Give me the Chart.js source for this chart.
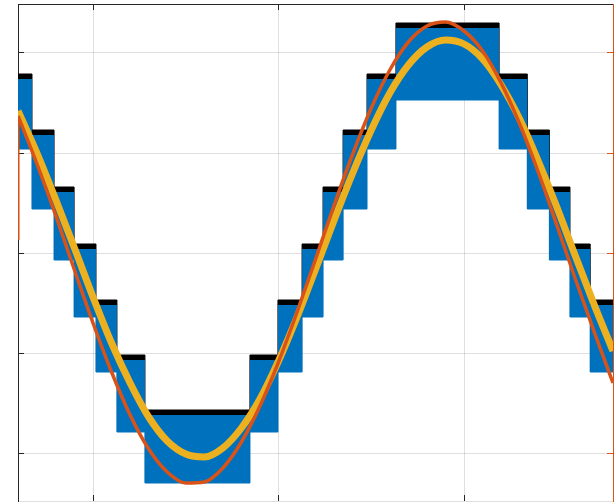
<!DOCTYPE html>
<html>
<head>
<meta charset="utf-8">
<script src="https://cdn.jsdelivr.net/npm/chart.js@4.4.1/dist/chart.umd.min.js"></script>
<style>
html,body{margin:0;padding:0;background:#fff;overflow:hidden}
#wrap{width:615px;height:502px;position:relative}
</style>
</head>
<body>
<div id="wrap"><canvas id="c"></canvas></div>
<script>
// ---- data ----
const xTicks = [10, 20, 30];
const yTicks = [-2, -1, 0, 1, 2];

// sample positions along the time axis
const sampleX = [5.96, 7, 8, 9, 10, 11, 12, 13, 14, 15, 16, 17, 18, 19, 20, 21, 22,
                 23, 24, 25, 26, 27, 28, 29, 30, 31, 32, 33, 34, 35, 36, 37, 38.03];
// orange reference sine
const orangeY = [1.37, 0.88, 0.37, -0.17, -0.70, -1.19, -1.62, -1.96, -2.19, -2.30, -2.29,
                 -2.15, -1.89, -1.53, -1.09, -0.59, -0.06, 0.48, 0.99, 1.45, 1.83, 2.11,
                 2.27, 2.31, 2.22, 2.02, 1.70, 1.29, 0.81, 0.28, -0.26, -0.78, -1.30];
// orange initial jump at the left edge
const orangeStartX = [5.96, 5.96];
const orangeStartY = [0.13, 1.37];
// yellow filtered output
const yellowY = [1.42, 0.99, 0.53, 0.05, -0.44, -0.90, -1.30, -1.64, -1.88, -2.01, -2.04,
                 -1.95, -1.75, -1.46, -1.08, -0.64, -0.16, 0.33, 0.80, 1.23, 1.60, 1.88,
                 2.06, 2.13, 2.09, 1.94, 1.68, 1.34, 0.92, 0.46, -0.03, -0.51, -0.98];
// multilevel staircase: step boundaries and per-step envelope levels
const stepEdges = [5.96, 6.71, 7.90, 8.98, 10.16, 11.29, 12.80, 18.46, 19.97, 21.27,
                   22.40, 23.48, 24.77, 26.33, 31.89, 33.41, 34.60, 35.71, 36.80, 38.03];
const blackTop  = [1.79, 1.23, 0.66, 0.09, -0.47, -1.02, -1.57, -1.02, -0.47, 0.09,
                   0.66, 1.23, 1.79, 2.30, 1.79, 1.23, 0.66, 0.09, -0.47];
const blueTop   = [1.74, 1.18, 0.61, 0.04, -0.52, -1.07, -1.62, -1.07, -0.52, 0.04,
                   0.61, 1.18, 1.74, 2.25, 1.74, 1.18, 0.61, 0.04, -0.52];
const blueBottom = [1.04, 0.44, -0.07, -0.64, -1.19, -1.79, -2.30, -1.79, -1.19, -0.64,
                    -0.07, 0.44, 1.04, 1.53, 1.04, 0.44, -0.07, -0.64, -1.19];

// ---- helpers to build library tables ----
function pairs(xs, ys) { return ys.map((v, i) => ({x: xs[i], y: v})); }
function stepPoints(edges, levels) {
  const pts = levels.map((v, i) => ({x: edges[i], y: v}));
  pts.push({x: edges[edges.length - 1], y: levels[levels.length - 1]});
  return pts;
}

const BLUE = '#0072BD', ORANGE = '#D95319', YELLOW = '#EDB120', AXIS = '#262626';
const GRID = 'rgba(38,38,38,0.15)';

const inwardTicks = {
  id: 'inwardTicks',
  beforeDatasetsDraw(chart) {
    const {ctx, chartArea: a, scales} = chart;
    const L = 6;
    ctx.save();
    ctx.lineWidth = 1;
    ctx.strokeStyle = AXIS;
    ctx.beginPath();
    xTicks.forEach(v => {
      const px = Math.round(scales.x.getPixelForValue(v) - 0.5) + 0.5;
      ctx.moveTo(px, a.top); ctx.lineTo(px, a.top + L);
      ctx.moveTo(px, a.bottom); ctx.lineTo(px, a.bottom - L);
    });
    yTicks.forEach(v => {
      const py = Math.round(scales.y.getPixelForValue(v) - 0.5) + 0.5;
      ctx.moveTo(a.left, py); ctx.lineTo(a.left + L, py);
    });
    ctx.stroke();
    ctx.strokeStyle = ORANGE;
    ctx.beginPath();
    yTicks.forEach(v => {
      const py = Math.round(scales.y2.getPixelForValue(v) - 0.5) + 0.5;
      ctx.moveTo(a.right, py); ctx.lineTo(a.right - L, py);
    });
    ctx.stroke();
    ctx.restore();
  }
};

const setTicks = arr => s => { s.ticks = arr.map(v => ({value: v})); };
const zeroW = s => { s.width = 0; };
const zeroH = s => { s.height = 0; };

new Chart(document.getElementById('c'), {
  type: 'line',
  data: {
    datasets: [
      { data: pairs(orangeStartX, orangeStartY), borderColor: ORANGE, borderWidth: 3,
        pointRadius: 0, fill: false, yAxisID: 'y2' },
      { data: pairs(sampleX, orangeY), borderColor: ORANGE, borderWidth: 3.5,
        pointRadius: 0, fill: false, cubicInterpolationMode: 'monotone', yAxisID: 'y2' },
      { data: pairs(sampleX, yellowY), borderColor: YELLOW, borderWidth: 7,
        pointRadius: 0, fill: false, cubicInterpolationMode: 'monotone', yAxisID: 'y' },
      { data: stepPoints(stepEdges, blueTop), stepped: 'before', borderWidth: 0,
        borderColor: BLUE, backgroundColor: BLUE, pointRadius: 0, fill: 4, yAxisID: 'y' },
      { data: stepPoints(stepEdges, blueBottom), stepped: 'before', borderWidth: 1,
        borderColor: BLUE, pointRadius: 0, fill: false, yAxisID: 'y' },
      { data: stepPoints(stepEdges, blackTop), stepped: 'before', borderWidth: 1,
        borderColor: '#000', backgroundColor: '#000', pointRadius: 0, fill: 4, yAxisID: 'y' }
    ]
  },
  options: {
    responsive: true,
    maintainAspectRatio: false,
    animation: false,
    events: [],
    layout: { padding: { left: 18, top: 4, right: 2, bottom: 1 } },
    plugins: { legend: { display: false }, tooltip: { enabled: false } },
    elements: { point: { radius: 0 } },
    scales: {
      x: {
        type: 'linear', position: 'bottom', min: 5.957, max: 38.03,
        grid: { color: GRID, drawTicks: false },
        border: { color: GRID },
        ticks: { display: false },
        afterBuildTicks: setTicks(xTicks), afterFit: zeroH
      },
      x2: {
        type: 'linear', position: 'top', min: 5.957, max: 38.03,
        grid: { display: false, drawTicks: false },
        border: { color: AXIS },
        ticks: { display: false }, afterFit: zeroH
      },
      y: {
        type: 'linear', position: 'left', min: -2.48, max: 2.49,
        grid: { color: GRID, drawTicks: false },
        border: { color: AXIS },
        ticks: { display: false },
        afterBuildTicks: setTicks(yTicks), afterFit: zeroW
      },
      y2: {
        type: 'linear', position: 'right', min: -2.48, max: 2.49,
        grid: { display: false, drawTicks: false },
        border: { color: ORANGE },
        ticks: { display: false },
        afterBuildTicks: setTicks(yTicks), afterFit: zeroW
      }
    }
  },
  plugins: [inwardTicks]
});
</script>
</body>
</html>
